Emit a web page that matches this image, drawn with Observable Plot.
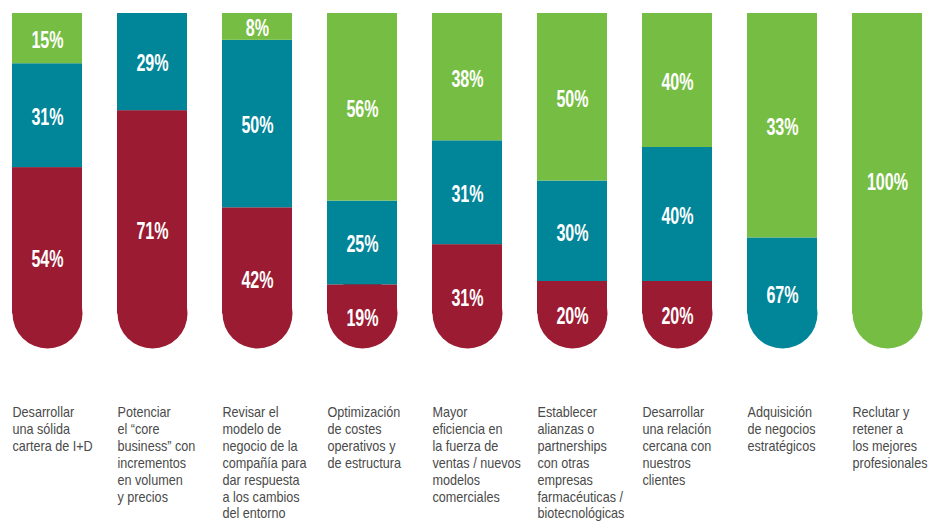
<!DOCTYPE html>
<html><head><meta charset="utf-8">
<script src="https://cdn.jsdelivr.net/npm/d3@7"></script>
<script src="https://cdn.jsdelivr.net/npm/@observablehq/plot@0.6"></script>
<style>html,body{margin:0;padding:0;background:#fff;}</style>
</head><body><div id="chart"></div>
<script>
const categories = [
  "Desarrollar\nuna sólida\ncartera de I+D",
  "Potenciar\nel “core\nbusiness” con\nincrementos\nen volumen\ny precios",
  "Revisar el\nmodelo de\nnegocio de la\ncompañía para\ndar respuesta\na los cambios\ndel entorno",
  "Optimización\nde costes\noperativos y\nde estructura",
  "Mayor\neficiencia en\nla fuerza de\nventas / nuevos\nmodelos\ncomerciales",
  "Establecer\nalianzas o\npartnerships\ncon otras\nempresas\nfarmacéuticas /\nbiotecnológicas",
  "Desarrollar\nuna relación\ncercana con\nnuestros\nclientes",
  "Adquisición\nde negocios\nestratégicos",
  "Reclutar y\nretener a\nlos mejores\nprofesionales"
];
// segment heights as drawn (bottom to top: red, teal, green)
const redValues   = [54, 71, 42, 19, 31, 20, 20, 0, 0];
const tealValues  = [31, 29, 50, 25, 31, 30, 40, 33, 0];
const greenValues = [15, 0, 8, 56, 38, 50, 40, 67, 100];
// printed labels
const redLabels   = ["54%", "71%", "42%", "19%", "31%", "20%", "20%", "", ""];
const tealLabels  = ["31%", "29%", "50%", "25%", "31%", "30%", "40%", "67%", ""];
const greenLabels = ["15%", "", "8%", "56%", "38%", "50%", "40%", "33%", "100%"];
const seriesNames = ["rojo", "azul", "verde"];
const seriesColors = ["#9a1b32", "#008599", "#76bd43"];

const table = [];
categories.forEach((cat, i) => {
  const vals = [redValues[i], tealValues[i], greenValues[i]];
  const labs = [redLabels[i], tealLabels[i], greenLabels[i]];
  let acc = 0, first = true;
  vals.forEach((v, s) => {
    if (v > 0) {
      table.push({cat, series: seriesNames[s], y1: acc, y2: acc + v, label: labs[s], bottom: first});
      acc += v; first = false;
    }
  });
});
const bottoms = table.filter(d => d.bottom);
const others = table.filter(d => !d.bottom);
const R = 35;
const FONT = "'Liberation Sans', Arial, sans-serif";

const chart = Plot.plot({
  width: 932,
  height: 522,
  marginTop: 13,
  marginBottom: 174,
  marginLeft: 12,
  marginRight: 10,
  style: {background: "#fff", fontFamily: FONT},
  x: {domain: categories, axis: null, paddingInner: 0.334, paddingOuter: 0},
  y: {domain: [0, 100], axis: null},
  color: {domain: seriesNames, range: seriesColors},
  marks: [
    Plot.dot(bottoms, {x: "cat", y: 0, dy: -R, r: R, fill: "series", stroke: null}),
    Plot.barY(bottoms, {x: "cat", y1: "y1", y2: "y2", fill: "series", insetBottom: R - 0.5}),
    Plot.barY(others, {x: "cat", y1: "y1", y2: "y2", fill: "series"}),
    Plot.text(table, {x: "cat", y: d => (d.y1 + d.y2) / 2, dy: 2, text: "label", fill: "white",
      fontSize: 23, fontWeight: "bold", fontFamily: FONT}),
    Plot.text(categories, {x: d => d, y: 0, text: d => d, dy: 57, dx: -R, lineAnchor: "top", textAnchor: "start",
      fill: "#4a4a4a", fontSize: 14.5, lineHeight: 1.16, fontFamily: FONT})
  ]
});
// condensed look: horizontal squeeze of the text glyphs
const groups = d3.select(chart).selectAll('g[aria-label="text"]').nodes();
const squeeze = [0.7, 0.87];
groups.forEach((g, k) => {
  d3.select(g).selectAll("text").each(function() {
    const t = this.getAttribute("transform");
    if (t) {
      this.setAttribute("transform", t + ` scale(${squeeze[k]},1)`);
    } else {
      const x = +this.getAttribute("x") || 0, y = +this.getAttribute("y") || 0;
      this.removeAttribute("x"); this.removeAttribute("y");
      this.setAttribute("transform", `translate(${x},${y}) scale(${squeeze[k]},1)`);
    }
  });
});
document.getElementById("chart").appendChild(chart);
</script>
</body></html>
